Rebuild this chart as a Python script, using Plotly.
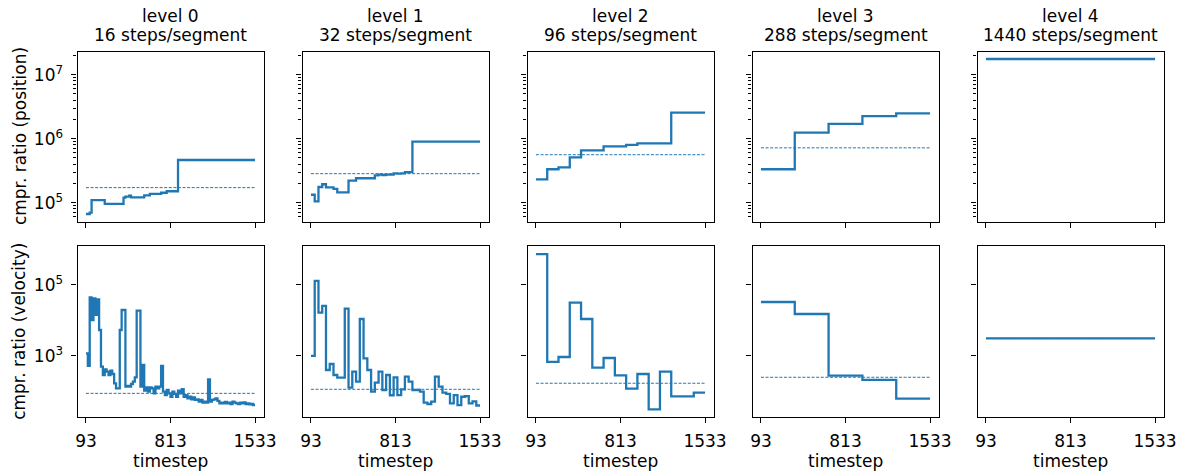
import plotly.graph_objects as go

# ---------------- data ----------------
T_START = 93
T_END = 1533
steps_per_segment = [16, 32, 96, 288, 1440]
level_names = ["level 0", "level 1", "level 2", "level 3", "level 4"]

pos_level0 = [66600, 66600, 69800,
              110000, 110000, 110000, 110000, 110000, 110000, 110000,
              95500, 95500, 95500, 95500, 95500, 95500, 95500, 95500, 95500, 95500,
              120000, 124000, 124000, 129000,
              121000, 121000, 121000, 121000, 121000, 121000, 121000,
              130000, 130000, 130000,
              137000, 137000, 137000, 137000, 137000, 137000,
              143000, 143000, 143000,
              151000, 151000, 151000, 151000, 151000, 151000,
              465000, 465000, 465000, 465000, 465000, 465000, 465000, 465000, 465000, 465000,
              465000, 465000, 465000, 465000, 465000, 465000, 465000, 465000, 465000, 465000,
              465000, 465000, 465000, 465000, 465000, 465000, 465000, 465000, 465000, 465000,
              465000, 465000, 465000, 465000, 465000, 465000, 465000, 465000, 465000, 465000,
              465000]
pos_level1 = [133000, 105000, 176000, 194000, 174000, 174000, 164000, 145000, 145000, 145000,
              221000, 221000, 241000, 241000, 241000, 241000, 241000, 268000, 274000, 271000,
              274000, 274000, 288000, 285000, 288000, 299000, 301000,
              898000, 898000, 898000, 898000, 898000, 898000, 898000, 898000, 898000,
              898000, 898000, 898000, 898000, 898000, 898000, 898000, 898000, 898000]
pos_level2 = [232000, 333000, 357000, 512000, 659000, 659000, 760000, 760000, 798000,
              847000, 847000, 847000, 2550000, 2550000, 2550000]
pos_level3 = [333000, 1240000, 1700000, 2260000, 2490000]
pos_level4 = [17600000]

vel_level0 = [1170, 512, 44800, 10200, 42000, 14200, 39400, 5330, 490, 284,
              411, 353, 284, 378, 303, 165, 119, 119, 5330, 19600,
              19600, 133, 139, 133, 158, 184, 244, 18800, 18800, 133,
              546, 103, 127, 96, 127, 119, 86, 133, 119, 133,
              512, 96, 77, 107, 86, 69, 96, 83, 69, 103,
              86, 114, 69, 77, 62, 69, 58, 66, 56, 58,
              50, 56, 47, 50, 47, 214, 50, 56, 58, 62,
              53, 45, 47, 45, 49, 45, 47, 43, 50, 47,
              45, 43, 47, 45, 48, 43, 45, 42, 43, 40]
vel_level1 = [982, 130000, 16500, 25500, 394, 582, 284, 239, 239, 21400,
              125, 353, 184, 10900, 842, 394, 96, 173, 353, 107,
              284, 76, 244, 77, 112, 255, 184, 107, 107, 96,
              47, 43, 50, 255, 133, 90, 83, 45, 77, 40,
              69, 72, 45, 51, 39]
vel_level2 = [750000, 664, 918, 31700, 10900, 458, 861, 279, 117, 303,
              30.4, 353, 71, 71, 89.8]
vel_level3 = [33000, 15100, 272, 206, 60.8]
vel_level4 = [3100]

pos_reference = [172000, 284000, 562000, 720000, 17600000]
vel_reference = [86, 112, 166, 245, 3100]

x_tick_vals = [93, 813, 1533]
x_tick_text = ["93", "813", "1533"]
pos_tick_vals = [1e5, 1e6, 1e7]
pos_tick_text = ["10<sup>5</sup>", "10<sup>6</sup>", "10<sup>7</sup>"]
pos_minor_vals = [6e4, 7e4, 8e4, 9e4,
                  2e5, 3e5, 4e5, 5e5, 6e5, 7e5, 8e5, 9e5,
                  2e6, 3e6, 4e6, 5e6, 6e6, 7e6, 8e6, 9e6, 2e7]
vel_tick_vals = [1e3, 1e5]
vel_tick_text = ["10<sup>3</sup>", "10<sup>5</sup>"]

pos_series = [pos_level0, pos_level1, pos_level2, pos_level3, pos_level4]
vel_series = [vel_level0, vel_level1, vel_level2, vel_level3, vel_level4]

# ---------------- layout ----------------
W, H = 1185, 472
FONT = "DejaVu Sans"
FS = 17
BLUE = "#1f77b4"

col_left = [77.5, 302.5, 527.5, 752.5, 977.5]
col_w = 186.0
row_px = [(51.5, 221.7), (246.0, 416.7)]
row_range = [[4.703, 7.3625], [1.274, 6.103]]


def px_x(v):
    return v / W


def px_y(v):
    return 1 - v / H


fig = go.Figure()
layout = dict(
    width=W, height=H,
    margin=dict(l=0, r=0, t=0, b=0, autoexpand=False),
    paper_bgcolor="white", plot_bgcolor="white",
    showlegend=False,
    font=dict(family=FONT, size=FS, color="black"),
)

annotations = []
for r, series in enumerate([pos_series, vel_series]):
    refs = pos_reference if r == 0 else vel_reference
    for c in range(5):
        idx = r * 5 + c + 1
        xa = "x" if idx == 1 else f"x{idx}"
        ya = "y" if idx == 1 else f"y{idx}"
        xkey = "xaxis" if idx == 1 else f"xaxis{idx}"
        ykey = "yaxis" if idx == 1 else f"yaxis{idx}"
        step = steps_per_segment[c]
        vals = series[c]
        xs = list(range(T_START, T_END, step)) + [T_END]
        ys = list(vals) + [vals[-1]]
        fig.add_trace(go.Scatter(
            x=[T_START, T_END], y=[refs[c], refs[c]], xaxis=xa, yaxis=ya,
            mode="lines", line=dict(color=BLUE, width=1, dash="3px,1.6px"),
            hoverinfo="skip"))
        fig.add_trace(go.Scatter(
            x=xs, y=ys, xaxis=xa, yaxis=ya, mode="lines",
            line=dict(color=BLUE, width=2.3, shape="hv")))

        x0 = col_left[c]
        y_top, y_bot = row_px[r]
        layout[xkey] = dict(
            domain=[px_x(x0), px_x(x0 + col_w)],
            anchor=ya, range=[21, 1605],
            tickmode="array", tickvals=x_tick_vals, ticktext=x_tick_text,
            showticklabels=(r == 1),
            ticks="outside", ticklen=5, tickwidth=1.1, tickcolor="black",
            showline=True, linecolor="black", linewidth=1.1, mirror=True,
            showgrid=False, zeroline=False,
            tickfont=dict(family=FONT, size=FS, color="black"),
            ticklabelstandoff=4,
        )
        ydict = dict(
            domain=[px_y(y_bot), px_y(y_top)],
            anchor=xa, type="log", range=row_range[r],
            tickmode="array",
            tickvals=pos_tick_vals if r == 0 else vel_tick_vals,
            ticktext=pos_tick_text if r == 0 else vel_tick_text,
            showticklabels=(c == 0),
            ticks="outside", ticklen=5, tickwidth=1.1, tickcolor="black",
            showline=True, linecolor="black", linewidth=1.1, mirror=True,
            showgrid=False, zeroline=False,
            tickfont=dict(family=FONT, size=FS, color="black"),
            ticklabelstandoff=5,
        )
        if r == 0:
            ydict["minor"] = dict(tickmode="array", tickvals=pos_minor_vals,
                                  ticks="outside", ticklen=3, tickwidth=0.8,
                                  tickcolor="black", showgrid=False)
        layout[ykey] = ydict

# column titles
for c in range(5):
    cx = px_x(col_left[c] + col_w / 2)
    annotations.append(dict(x=cx, y=px_y(16), xref="paper", yref="paper",
                            text=level_names[c], showarrow=False,
                            xanchor="center", yanchor="middle",
                            font=dict(family=FONT, size=FS, color="black")))
    annotations.append(dict(x=cx, y=px_y(35.5), xref="paper", yref="paper",
                            text=f"{steps_per_segment[c]} steps/segment",
                            showarrow=False, xanchor="center", yanchor="middle",
                            font=dict(family=FONT, size=FS, color="black")))
    annotations.append(dict(x=cx, y=px_y(461), xref="paper", yref="paper",
                            text="timestep", showarrow=False,
                            xanchor="center", yanchor="middle",
                            font=dict(family=FONT, size=FS, color="black")))

# row labels
for r, label in enumerate(["cmpr. ratio (position)", "cmpr. ratio (velocity)"]):
    y_top, y_bot = row_px[r]
    annotations.append(dict(x=px_x(19.5), y=px_y((y_top + y_bot) / 2),
                            xref="paper", yref="paper", text=label,
                            textangle=-90, showarrow=False,
                            xanchor="center", yanchor="middle",
                            font=dict(family=FONT, size=FS, color="black")))

layout["annotations"] = annotations
fig.update_layout(**layout)
fig.write_html(
    "out.html",
    config={"displayModeBar": False},
    post_script="document.body.style.margin='0';document.body.style.overflow='hidden';",
)
